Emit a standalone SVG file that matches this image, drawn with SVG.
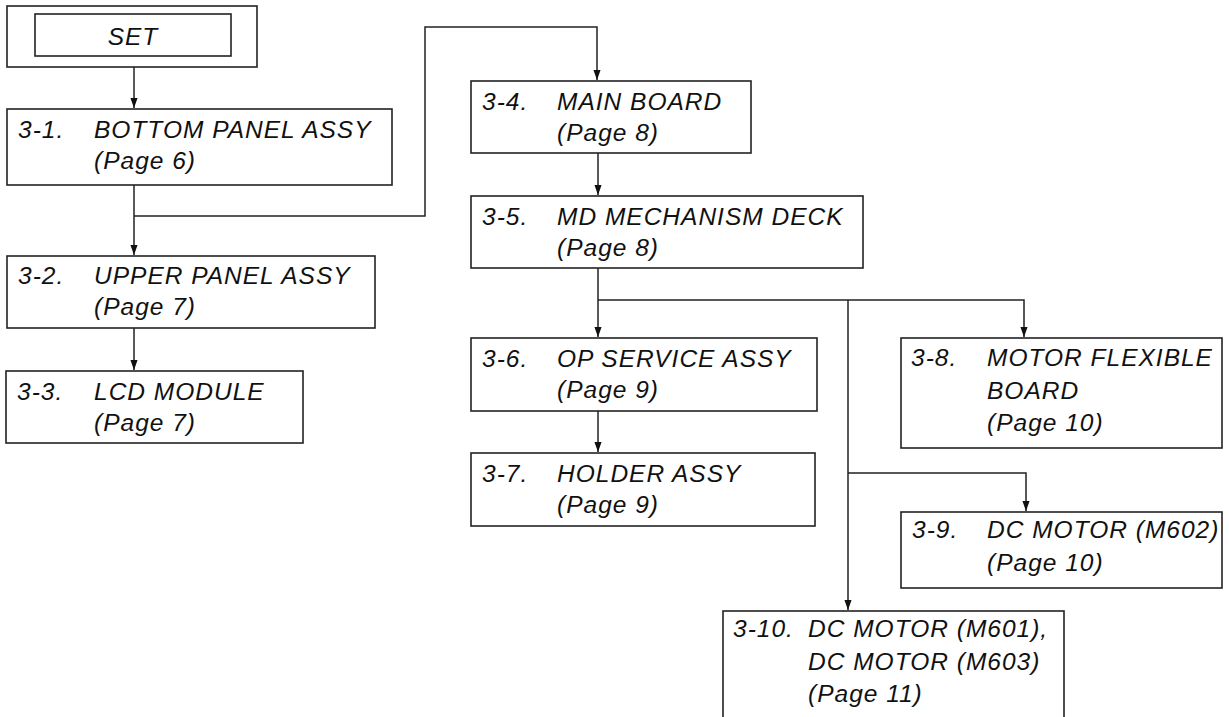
<svg xmlns="http://www.w3.org/2000/svg" width="1229" height="717" viewBox="0 0 1229 717">
<defs>
<style>
.box{fill:#fff;stroke:#222;stroke-width:1.6}
.t{font-family:"Liberation Sans",Arial,sans-serif;font-style:italic;font-size:24.5px;letter-spacing:1px;fill:#111}
.c{fill:none;stroke:#222;stroke-width:1.5}
</style>
<marker id="arr" markerUnits="userSpaceOnUse" markerWidth="10" markerHeight="14" refX="14" refY="5" orient="auto" viewBox="0 0 14 10">
<path d="M0,0 L14,5 L0,10 Z" fill="#111"/>
</marker>
</defs>
<rect width="1229" height="717" fill="#fff"/>
<g id="connectors">
<path class="c" d="M134,67 V108" marker-end="url(#arr)"/>
<path class="c" d="M134,185 V255" marker-end="url(#arr)"/>
<path class="c" d="M134,216 H425 V27 H597 V80" marker-end="url(#arr)"/>
<path class="c" d="M134,328 V370" marker-end="url(#arr)"/>
<path class="c" d="M598,153 V195" marker-end="url(#arr)"/>
<path class="c" d="M598,268 V337" marker-end="url(#arr)"/>
<path class="c" d="M598,300 H1024 V337" marker-end="url(#arr)"/>
<path class="c" d="M848,300 V610" marker-end="url(#arr)"/>
<path class="c" d="M848,473 H1026 V511" marker-end="url(#arr)"/>
<path class="c" d="M598,411 V452" marker-end="url(#arr)"/>
</g>
<g id="set">
<rect class="box" x="7" y="6" width="250" height="61"/>
<rect class="box" x="35" y="14" width="196" height="42"/>
<text class="t" x="133" y="45" text-anchor="middle">SET</text>
</g>
<g id="n3-1">
<rect class="box" x="7" y="109" width="385" height="76"/>
<text class="t" x="18" y="138">3-1.</text>
<text class="t" x="94" y="138">BOTTOM PANEL ASSY</text>
<text class="t" x="94" y="169">(Page 6)</text>
</g>
<g id="n3-2">
<rect class="box" x="7" y="256" width="368" height="72"/>
<text class="t" x="18" y="284">3-2.</text>
<text class="t" x="94" y="284">UPPER PANEL ASSY</text>
<text class="t" x="94" y="315">(Page 7)</text>
</g>
<g id="n3-3">
<rect class="box" x="6" y="371" width="297" height="72"/>
<text class="t" x="17" y="400">3-3.</text>
<text class="t" x="94" y="400">LCD MODULE</text>
<text class="t" x="94" y="431">(Page 7)</text>
</g>
<g id="n3-4">
<rect class="box" x="471" y="81" width="280" height="72"/>
<text class="t" x="482" y="110">3-4.</text>
<text class="t" x="557" y="110">MAIN BOARD</text>
<text class="t" x="557" y="141">(Page 8)</text>
</g>
<g id="n3-5">
<rect class="box" x="471" y="196" width="392" height="72"/>
<text class="t" x="482" y="225">3-5.</text>
<text class="t" x="557" y="225">MD MECHANISM DECK</text>
<text class="t" x="557" y="256">(Page 8)</text>
</g>
<g id="n3-6">
<rect class="box" x="471" y="338" width="346" height="73"/>
<text class="t" x="482" y="367">3-6.</text>
<text class="t" x="557" y="367">OP SERVICE ASSY</text>
<text class="t" x="557" y="398">(Page 9)</text>
</g>
<g id="n3-7">
<rect class="box" x="471" y="453" width="344" height="73"/>
<text class="t" x="482" y="482">3-7.</text>
<text class="t" x="557" y="482">HOLDER ASSY</text>
<text class="t" x="557" y="513">(Page 9)</text>
</g>
<g id="n3-8">
<rect class="box" x="901" y="338" width="321" height="110"/>
<text class="t" x="911" y="366">3-8.</text>
<text class="t" x="987" y="366">MOTOR FLEXIBLE</text>
<text class="t" x="987" y="399">BOARD</text>
<text class="t" x="987" y="431">(Page 10)</text>
</g>
<g id="n3-9">
<rect class="box" x="901" y="512" width="321" height="76"/>
<text class="t" x="912" y="538">3-9.</text>
<text class="t" x="987" y="538">DC MOTOR (M602)</text>
<text class="t" x="987" y="571">(Page 10)</text>
</g>
<g id="n3-10">
<rect class="box" x="723" y="611" width="341" height="120"/>
<text class="t" x="733" y="637">3-10.</text>
<text class="t" x="808" y="637">DC MOTOR (M601),</text>
<text class="t" x="808" y="670">DC MOTOR (M603)</text>
<text class="t" x="808" y="702">(Page 11)</text>
</g>
</svg>
